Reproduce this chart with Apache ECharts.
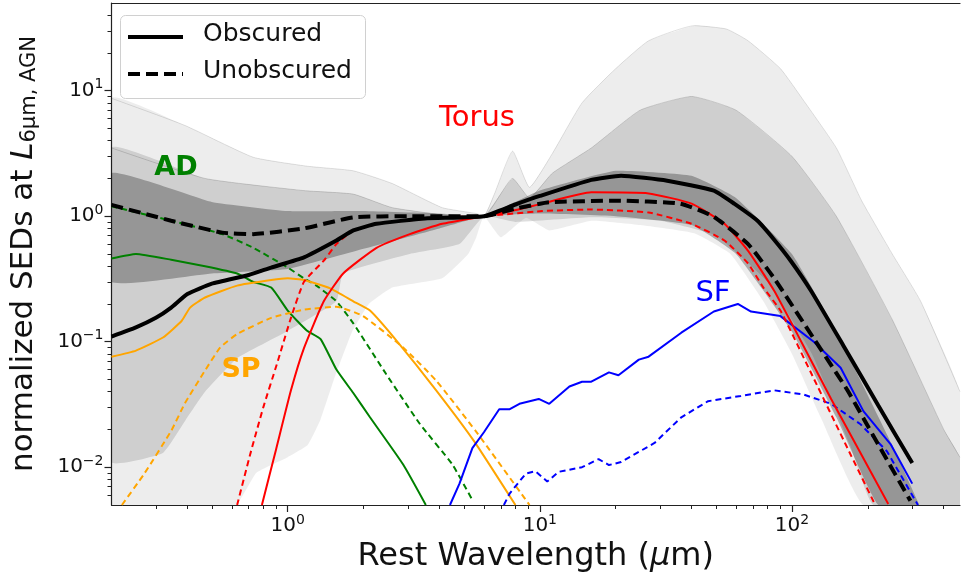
<!DOCTYPE html>
<html>
<head>
<meta charset="utf-8">
<script src="https://cdn.jsdelivr.net/npm/echarts@6/dist/echarts.min.js"></script>
<style>
  html, body { margin: 0; padding: 0; background: #fff; }
  #chart { width: 961px; height: 579px; }
</style>
</head>
<body>
<div id="chart"></div>
<script>
// wavelength (um) / normalized SED pairs
const obscured = [[0.2,0.11],[0.25,0.13],[0.3,0.155],[0.345,0.187],[0.4,0.24],[0.5,0.29],[0.7,0.34],[0.86,0.39],[1.16,0.47],[1.56,0.64],[1.82,0.77],[2.25,0.87],[3.5,0.96],[6,1.0],[8,1.24],[10,1.45],[16,1.95],[21,2.1],[32,1.92],[49,1.6],[59,1.26],[73,0.92],[85,0.65],[99,0.44],[119,0.255],[160,0.093],[220,0.031],[300,0.0108]];
const unobscured = [[0.2,1.23],[0.345,0.92],[0.55,0.74],[0.73,0.72],[1.16,0.8],[1.82,0.98],[3,1.0],[6,1.0],[8,1.15],[10.9,1.29],[20,1.33],[36,1.26],[49,0.99],[67,0.6],[85,0.32],[122,0.106],[166,0.041],[224,0.0142],[295,0.0054]];
const torusObs = [[0.79,0.005],[0.9,0.014],[1.03,0.041],[1.16,0.089],[1.39,0.21],[1.66,0.35],[2.25,0.56],[3.05,0.72],[4.1,0.87],[6,1.0],[8,1.12],[10.2,1.26],[16,1.55],[27,1.52],[40,1.26],[54,0.87],[67,0.53],[85,0.255],[105,0.115],[143,0.035],[241,0.0051]];
const torusUnobs = [[0.63,0.005],[0.71,0.0127],[0.8,0.03],[0.905,0.066],[1.03,0.155],[1.16,0.3],[1.4,0.45],[1.56,0.6],[1.82,0.77],[2.25,0.87],[4.1,0.98],[6,1.0],[10.2,1.1],[16,1.13],[27,1.07],[40,0.87],[54,0.64],[67,0.42],[77,0.27],[90,0.177],[122,0.051],[166,0.0142],[214,0.005]];
const adObs = [[0.2,0.46],[0.25,0.5],[0.345,0.45],[0.47,0.4],[0.63,0.35],[0.73,0.3],[0.86,0.27],[1.0,0.177],[1.19,0.123],[1.35,0.105],[1.56,0.06],[1.82,0.039],[2.12,0.025],[2.87,0.0105],[3.53,0.005]];
const adUnobs = [[0.2,1.2],[0.345,0.92],[0.55,0.72],[0.73,0.56],[1.0,0.39],[1.16,0.32],[1.3,0.28],[1.56,0.21],[1.82,0.14],[2.46,0.055],[3.35,0.022],[4.5,0.0105],[5.42,0.0054]];
const spObs = [[0.2,0.076],[0.25,0.085],[0.32,0.108],[0.38,0.147],[0.41,0.187],[0.47,0.225],[0.63,0.28],[0.86,0.31],[1.0,0.32],[1.16,0.31],[1.48,0.265],[1.82,0.21],[2.12,0.177],[2.7,0.102],[3.88,0.041],[5.5,0.016],[8,0.005]];
const spUnobs = [[0.22,0.005],[0.27,0.0089],[0.345,0.0195],[0.39,0.032],[0.47,0.059],[0.54,0.09],[0.63,0.115],[0.86,0.155],[1.16,0.18],[1.56,0.19],[1.99,0.16],[2.87,0.09],[3.88,0.049],[5.57,0.0194],[9.1,0.005]];
const sfObs = [[4.4,0.005],[4.8,0.0074],[5.4,0.0142],[6.0,0.019],[6.9,0.029],[7.6,0.029],[8.3,0.032],[9.9,0.035],[10.9,0.032],[13.1,0.044],[14.7,0.048],[16,0.048],[18.8,0.057],[20.5,0.054],[24.7,0.072],[27,0.076],[36.4,0.118],[49,0.174],[61,0.2],[68.8,0.174],[90,0.16],[122,0.1],[156,0.062],[192,0.028],[246,0.0153],[300,0.0074]];
const sfUnobs = [[7.2,0.005],[7.6,0.0062],[8.8,0.0089],[9.6,0.0093],[10.7,0.0077],[11.9,0.0092],[14.7,0.01],[17.1,0.0116],[18.8,0.0104],[21,0.011],[28.5,0.0156],[36.4,0.025],[46.5,0.0336],[62.7,0.037],[85,0.041],[111,0.038],[143,0.032],[187,0.022],[238,0.0134],[316,0.005]];

// envelopes of the grey bundle of individual SEDs
const outerHi = [[0.2,8.7],[0.39,5.3],[0.73,2.95],[1.2,2.5],[1.82,2.3],[2.6,1.82],[4.1,1.17],[5.6,1.05],[6,1.0],[6.6,1.5],[7.8,3.3],[9.1,1.7],[11.2,3.15],[14.7,8],[20,15],[27,25],[41,33],[55,31],[67,25],[90,15],[111,8.4],[150,3.5],[189,1.33],[250,0.5],[324,0.21],[464,0.04]];
const outerLo = [[0.2,0.005],[0.62,0.005],[0.75,0.009],[1.0,0.012],[1.2,0.015],[1.35,0.024],[1.52,0.049],[1.8,0.12],[2.1,0.2],[2.6,0.27],[4.1,0.32],[5.2,0.5],[5.6,0.68],[6,1.0],[7,0.68],[8.8,0.97],[10.9,0.77],[16,0.92],[25,0.85],[41,0.73],[57,0.5],[77,0.21],[100,0.08],[130,0.025],[192,0.005],[464,0.005]];
const midHi = [[0.2,3.5],[0.47,2.0],[1.16,1.6],[1.82,1.5],[2.6,1.17],[4.8,1.0],[6,1.0],[7.8,2.0],[9.1,1.4],[11.2,2.2],[16,3.5],[25,7],[40,9],[60,7],[100,3],[150,1.0],[250,0.15],[400,0.02],[464,0.012]];
const midLo = [[0.2,0.011],[0.32,0.013],[0.4,0.025],[0.47,0.04],[0.63,0.074],[1.0,0.122],[1.56,0.21],[1.66,0.35],[3.05,0.5],[4.8,0.6],[6,1.0],[8,0.9],[16,0.98],[30,0.92],[50,0.7],[80,0.3],[120,0.08],[170,0.015],[210,0.005],[464,0.005]];
const innerHi = [[0.2,2.2],[0.5,1.3],[1,1.1],[2,1.1],[4,1.05],[6,1.0],[10,1.6],[20,2.3],[40,2.1],[60,1.4],[100,0.5],[150,0.12],[250,0.015],[320,0.005]];
const innerLo = [[0.2,0.3],[0.5,0.35],[1,0.38],[2,0.55],[4,0.8],[6,1.0],[10,1.05],[20,1.0],[40,0.85],[60,0.5],[100,0.12],[150,0.025],[220,0.005],[320,0.005]];

const xRange = [0.2, 464];
const yRange = [0.005, 50];
const xMajor = [0, 1, 2];
const yMajor = [-2, -1, 0, 1];

const LOG = Math.log10;
const toLog = pts => pts.map(p => [LOG(p[0]), LOG(p[1])]);

function minorTicks(lo, hi) {
  const out = [];
  for (let e = Math.floor(LOG(lo)); e <= Math.ceil(LOG(hi)); e++) {
    for (let k = 2; k <= 9; k++) {
      const v = k * Math.pow(10, e);
      if (v > lo * 1.001 && v < hi) out.push(LOG(v));
    }
  }
  return out;
}

const chart = echarts.init(document.getElementById('chart'));
const FONT = 'DejaVu Sans';

const supLabel = v => '{b|10}{s|' + (v < 0 ? '\u2212' + (-v) : v) + '}';
const tickRich = {
  b: { fontSize: 20, fontFamily: FONT, color: '#111' },
  s: { fontSize: 14, fontFamily: FONT, color: '#111', padding: [0, 0, 12, 0] }
};

function band(hi, lo, fill) {
  const h = toLog(hi), l = toLog(lo).reverse();
  return {
    type: 'custom',
    data: [[0]],
    silent: true,
    z: 1,
    renderItem: (params, api) => {
      const pts = h.concat(l).map(p => api.coord(p));
      const cs = params.coordSys;
      return {
        type: 'polygon',
        shape: { points: pts, smooth: 0.12 },
        style: { fill: fill },
        clipPath: { type: 'rect', shape: { x: cs.x, y: cs.y, width: cs.width, height: cs.height } }
      };
    }
  };
}

function line(data, color, width, dashed, z, smooth) {
  return {
    type: 'line',
    data: toLog(data),
    symbol: 'none',
    smooth: smooth === undefined ? 0.15 : smooth,
    z: z,
    lineStyle: { color: color, width: width, type: dashed ? dashed : 'solid' }
  };
}

const baseX = { type: 'value', min: LOG(xRange[0]), max: LOG(xRange[1]), splitLine: { show: false } };
const baseY = { type: 'value', min: LOG(yRange[0]), max: LOG(yRange[1]), splitLine: { show: false } };
const axisLine = { show: true, onZero: false, lineStyle: { color: '#222', width: 1.2 } };
const noLine = { show: false, onZero: false };

const option = {
  animation: false,
  grid: { left: 107, right: 1, top: 3, bottom: 74 },
  xAxis: [
    Object.assign({}, baseX, {
      position: 'bottom',
      axisLine: axisLine,
      axisTick: { show: true, customValues: xMajor, length: 7, lineStyle: { color: '#222', width: 1.2 } },
      axisLabel: { customValues: xMajor, formatter: supLabel, rich: tickRich, margin: 8 },
      name: 'Rest Wavelength ({it|\u03bc}m)',
      nameLocation: 'middle',
      nameGap: 30,
      nameTextStyle: { fontSize: 32, fontFamily: FONT, color: '#111',
        rich: { it: { fontSize: 32, fontFamily: FONT, fontStyle: 'italic', color: '#111' } } }
    }),
    Object.assign({}, baseX, {
      position: 'bottom', offset: 0,
      axisLine: noLine,
      axisTick: { show: true, customValues: minorTicks(xRange[0], xRange[1]), length: 4, lineStyle: { color: '#222', width: 1 } },
      axisLabel: { show: false }
    }),
    Object.assign({}, baseX, {
      position: 'top', offset: 0,
      axisLine: axisLine, axisTick: { show: false }, axisLabel: { show: false }
    })
  ],
  yAxis: [
    Object.assign({}, baseY, {
      position: 'left',
      axisLine: axisLine,
      axisTick: { show: true, customValues: yMajor, length: 7, lineStyle: { color: '#222', width: 1.2 } },
      axisLabel: { customValues: yMajor, formatter: supLabel, rich: tickRich, margin: 8 },
      name: 'normalized SEDs at {it|L}{sub|6\u03bcm, AGN}',
      nameLocation: 'middle',
      nameRotate: 90,
      nameGap: 71,
      nameTextStyle: { fontSize: 31, fontFamily: FONT, color: '#111',
        rich: {
          it: { fontSize: 31, fontFamily: FONT, fontStyle: 'italic', color: '#111' },
          sub: { fontSize: 21, fontFamily: FONT, color: '#111', padding: [13, 0, 0, 0] }
        } }
    }),
    Object.assign({}, baseY, {
      position: 'left', offset: 0,
      axisLine: noLine,
      axisTick: { show: true, customValues: minorTicks(yRange[0], yRange[1]), length: 4, lineStyle: { color: '#222', width: 1 } },
      axisLabel: { show: false }
    })
  ],
  series: [
    band(outerHi, outerLo, 'rgba(0,0,0,0.07)'),
    band(midHi, midLo, 'rgba(0,0,0,0.13)'),
    band(innerHi, innerLo, 'rgba(0,0,0,0.28)'),
    line(outerHi, 'rgba(0,0,0,0.12)', 1, null, 2),
    line(midHi, 'rgba(0,0,0,0.15)', 1, null, 2),
    line(adObs, '#008000', 2, null, 5),
    line(adUnobs, '#008000', 2, [6, 4], 5),
    line(spObs, '#FFA500', 2, null, 5),
    line(spUnobs, '#FFA500', 2, [6, 4], 5),
    line(sfObs, '#0000FF', 2, null, 5, false),
    line(sfUnobs, '#0000FF', 2, [6, 4], 5, false),
    line(torusObs, '#FF0000', 2, null, 6),
    line(torusUnobs, '#FF0000', 2, [6, 4], 6),
    line(obscured, '#000', 4, null, 8),
    line(unobscured, '#000', 4, [12, 6], 8)
  ],
  graphic: [
    { type: 'rect', left: 120, top: 15, shape: { width: 245, height: 83, r: 5 },
      style: { fill: 'rgba(255,255,255,0.85)', stroke: '#d0d0d0', lineWidth: 1 }, z: 20 },
    { type: 'line', shape: { x1: 128, y1: 37, x2: 183, y2: 37 }, style: { stroke: '#000', lineWidth: 4 }, z: 21 },
    { type: 'line', shape: { x1: 128, y1: 74, x2: 183, y2: 74 }, style: { stroke: '#000', lineWidth: 4, lineDash: [12, 6] }, z: 21 },
    { type: 'text', left: 203, top: 22, style: { text: 'Obscured', font: '25px "DejaVu Sans"', fill: '#111' }, z: 21 },
    { type: 'text', left: 203, top: 59, style: { text: 'Unobscured', font: '25px "DejaVu Sans"', fill: '#111' }, z: 21 },
    { type: 'text', x: 176, y: 168, style: { text: 'AD', font: 'bold 27px "DejaVu Sans"', fill: '#008000', align: 'center', verticalAlign: 'middle' }, z: 21 },
    { type: 'text', x: 241, y: 370, style: { text: 'SP', font: 'bold 27px "DejaVu Sans"', fill: '#FFA500', align: 'center', verticalAlign: 'middle' }, z: 21 },
    { type: 'text', x: 477, y: 118, style: { text: 'Torus', font: '29px "DejaVu Sans"', fill: '#FF0000', align: 'center', verticalAlign: 'middle' }, z: 21 },
    { type: 'text', x: 713, y: 293, style: { text: 'SF', font: '29px "DejaVu Sans"', fill: '#0000FF', align: 'center', verticalAlign: 'middle' }, z: 21 }
  ]
};

chart.setOption(option);
</script>
</body>
</html>
